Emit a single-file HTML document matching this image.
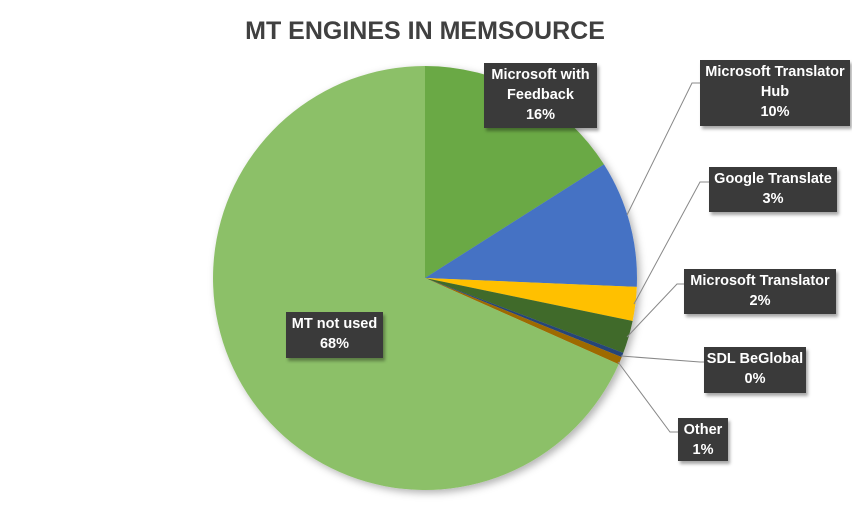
<!DOCTYPE html>
<html><head><meta charset="utf-8"><style>
html,body{margin:0;padding:0;background:#fff;}
.b{position:absolute;background:#3a3a3a;color:#fff;font:bold 14.5px/20px "Liberation Sans",sans-serif;text-align:center;box-shadow:2px 3px 3px rgba(0,0,0,.35);box-sizing:border-box;padding-top:2px;letter-spacing:0;white-space:nowrap}
</style></head><body>
<div style="position:relative;width:852px;height:508px;overflow:hidden">
<svg width="852" height="508" style="position:absolute;left:0;top:0">
<defs><filter id="s" x="-10%" y="-10%" width="130%" height="130%"><feDropShadow dx="3" dy="3" stdDeviation="4" flood-opacity="0.3"/></filter></defs>
<text x="425" y="39" text-anchor="middle" font-family="Liberation Sans,sans-serif" font-weight="bold" font-size="25" fill="#404040">MT ENGINES IN MEMSOURCE</text>
<g filter="url(#s)">
<path d="M425,278 L425,66 A212,212 0 0 1 604,164.4 Z" fill="#6aa945"/>
<path d="M425,278 L604,164.4 A212,212 0 0 1 636.8,286.9 Z" fill="#4472c4"/>
<path d="M425,278 L636.8,286.9 A212,212 0 0 1 632.6,321 Z" fill="#ffc000"/>
<path d="M425,278 L632.6,321 A212,212 0 0 1 623.3,352.9 Z" fill="#3f6a2b"/>
<path d="M425,278 L623.3,352.9 A212,212 0 0 1 621.7,357.1 Z" fill="#264478"/>
<path d="M425,278 L621.7,357.1 A212,212 0 0 1 618.7,364.2 Z" fill="#9e6a04"/>
<path d="M425,278 L618.7,364.2 A212,212 0 1 1 425,66 Z" fill="#8cc068"/>
</g>
<g stroke="#888" stroke-width="1" fill="none">
<polyline points="627,215 692,83 700,83"/>
<polyline points="634,304 700,182 709,182"/>
<polyline points="627,337 677,284 684,284"/>
<polyline points="621,356 700,362 704,362"/>
<polyline points="618,362 670,432 678,432"/>
</g>
</svg>
<div class="b" style="left:484px;top:63px;width:113px;height:65px">Microsoft with<br>Feedback<br>16%</div>
<div class="b" style="left:700px;top:60px;width:150px;height:66px">Microsoft Translator<br>Hub<br>10%</div>
<div class="b" style="left:709px;top:167px;width:128px;height:45px">Google Translate<br>3%</div>
<div class="b" style="left:684px;top:269px;width:152px;height:45px">Microsoft Translator<br>2%</div>
<div class="b" style="left:704px;top:347px;width:102px;height:46px">SDL BeGlobal<br>0%</div>
<div class="b" style="left:678px;top:418px;width:50px;height:43px">Other<br>1%</div>
<div class="b" style="left:286px;top:312px;width:97px;height:46px">MT not used<br>68%</div>
</div>
</body></html>
